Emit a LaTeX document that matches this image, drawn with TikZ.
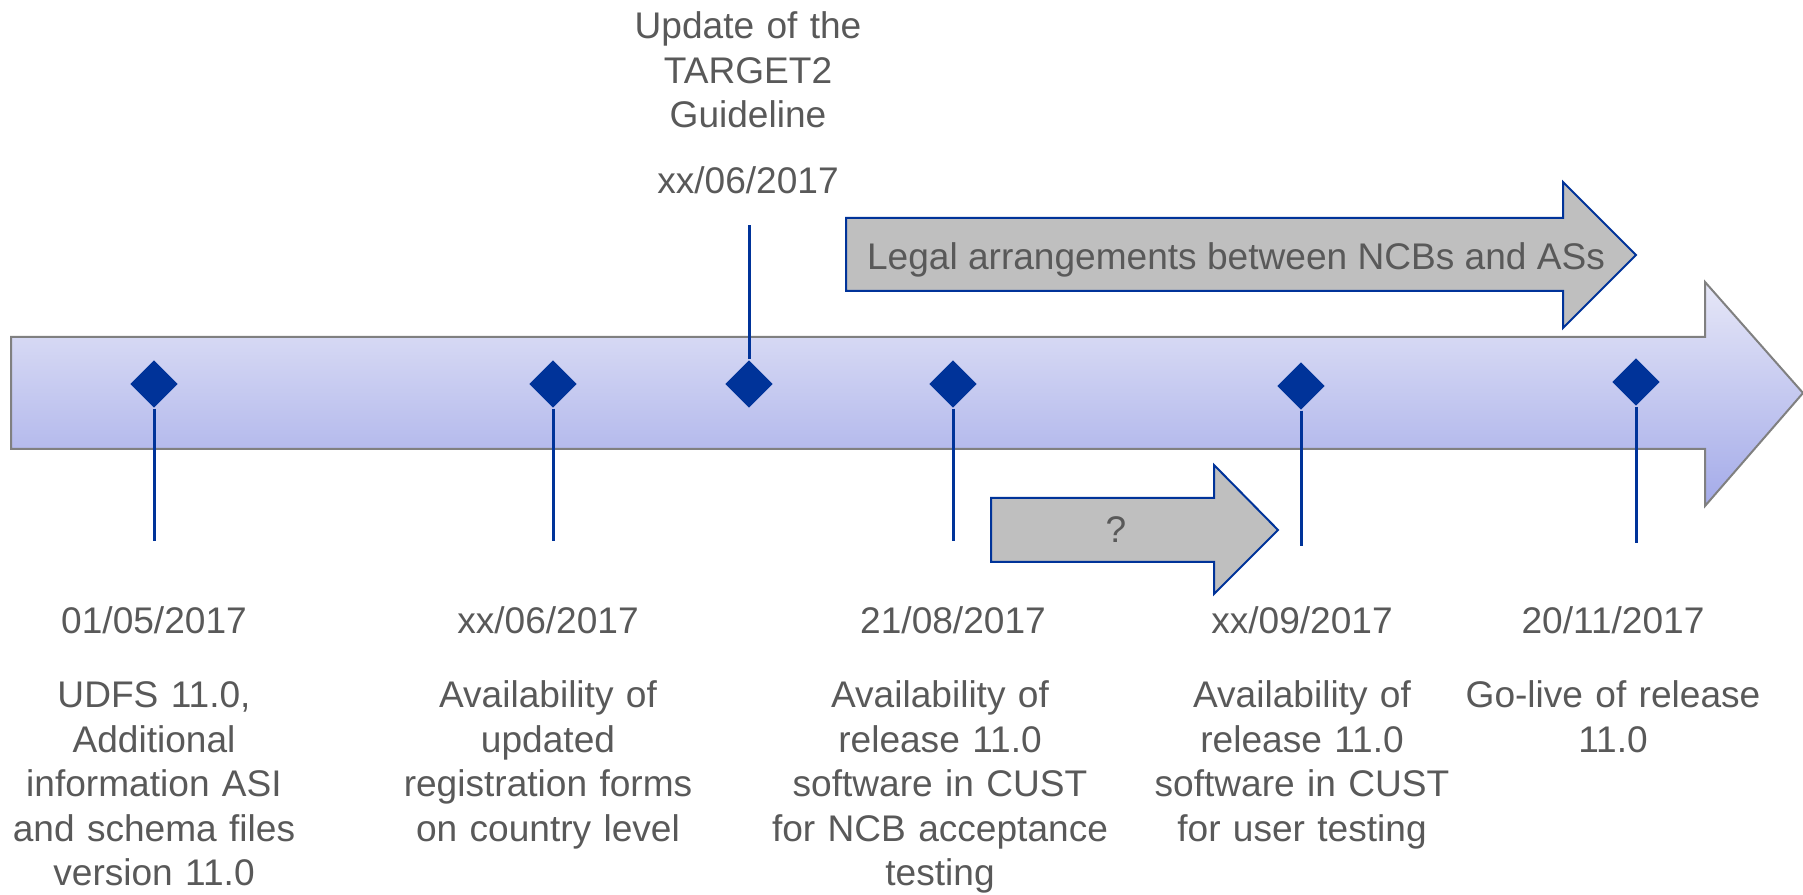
\documentclass[tikz,border=0pt]{standalone}
\usepackage{fontspec}
\setmainfont{Liberation Sans}
\usetikzlibrary{shapes.geometric}
\definecolor{msblue}{HTML}{003399}
\definecolor{txtgray}{HTML}{595959}
\definecolor{phasegray}{HTML}{BFBFBF}
\definecolor{bartop}{RGB}{230,231,247}
\definecolor{barbottom}{RGB}{164,171,233}

\begin{document}
\begin{tikzpicture}[x=0.1mm,y=-0.1mm,
  txt/.style={text=txtgray,font=\fontsize{10.55}{12.65}\selectfont,inner sep=0pt,anchor=base},
  desc/.style={txt,text width=40mm,align=center},
  milestone/.style={diamond,fill=msblue,inner sep=0pt,minimum size=4.8mm},
  stem/.style={msblue,line width=0.3mm},
  phase/.style={fill=phasegray,draw=msblue,line width=0.2mm}]
\useasboundingbox (0,0) rectangle (1803,895);
\draw[top color=bartop,bottom color=barbottom,draw=gray,line width=0.2mm]
  (11,337) -- (1705,337) -- (1705,282) -- (1803,393) -- (1705,506) -- (1705,449) -- (11,449) -- cycle;
\draw[phase] (846,218) -- (1563,218) -- (1563,182) -- (1636,255) -- (1563,328) -- (1563,291) -- (846,291) -- cycle;
\node[txt] (legal) at (1236,270) {Legal arrangements between NCBs and ASs};
\draw[phase] (991,498) -- (1214,498) -- (1214,465) -- (1278,530) -- (1214,594) -- (1214,562) -- (991,562) -- cycle;
\node[txt,anchor=center] (open) at (1116,530) {?};

\node[milestone] (m1) at (154,384) {};
\node[milestone] (m2) at (553,384) {};
\node[milestone] (m3) at (749,384) {};
\node[milestone] (m4) at (953,384) {};
\node[milestone] (m5) at (1301,386) {};
\node[milestone] (m6) at (1636,382) {};
\coordinate (s1) at (154,541);
\coordinate (s2) at (553,541);
\coordinate (s3) at (749,225);
\coordinate (s4) at (953,541);
\coordinate (s5) at (1301,546);
\coordinate (s6) at (1636,543);
\draw[stem] (m1.south) -- (s1);
\draw[stem] (m2.south) -- (s2);
\draw[stem] (m3.north) -- (s3);
\draw[stem] (m4.south) -- (s4);
\draw[stem] (m5.south) -- (s5);
\draw[stem] (m6.south) -- (s6);

\node[desc,text width=30mm] (t3) at (748,39) {Update of the\\TARGET2\\Guideline};
\node[txt] (d3) at (748,194) {xx/06/2017};

\node[txt] (d1) at (154,634) {01/05/2017};
\node[txt] (d2) at (548,634) {xx/06/2017};
\node[txt] (d4) at (953,634) {21/08/2017};
\node[txt] (d5) at (1302,634) {xx/09/2017};
\node[txt] (d6) at (1613,634) {20/11/2017};
\node[desc] (t1) at (154,708) {UDFS 11.0,\\Additional\\information ASI\\and schema files\\version 11.0};
\node[desc] (t2) at (548,708) {Availability of\\updated\\registration forms\\on country level};
\node[desc] (t4) at (940,708) {Availability of\\release 11.0\\software in CUST\\for NCB acceptance\\testing};
\node[desc] (t5) at (1302,708) {Availability of\\release 11.0\\software in CUST\\for user testing};
\node[desc] (t6) at (1613,708) {Go-live of release\\11.0};
\end{tikzpicture}
\end{document}
